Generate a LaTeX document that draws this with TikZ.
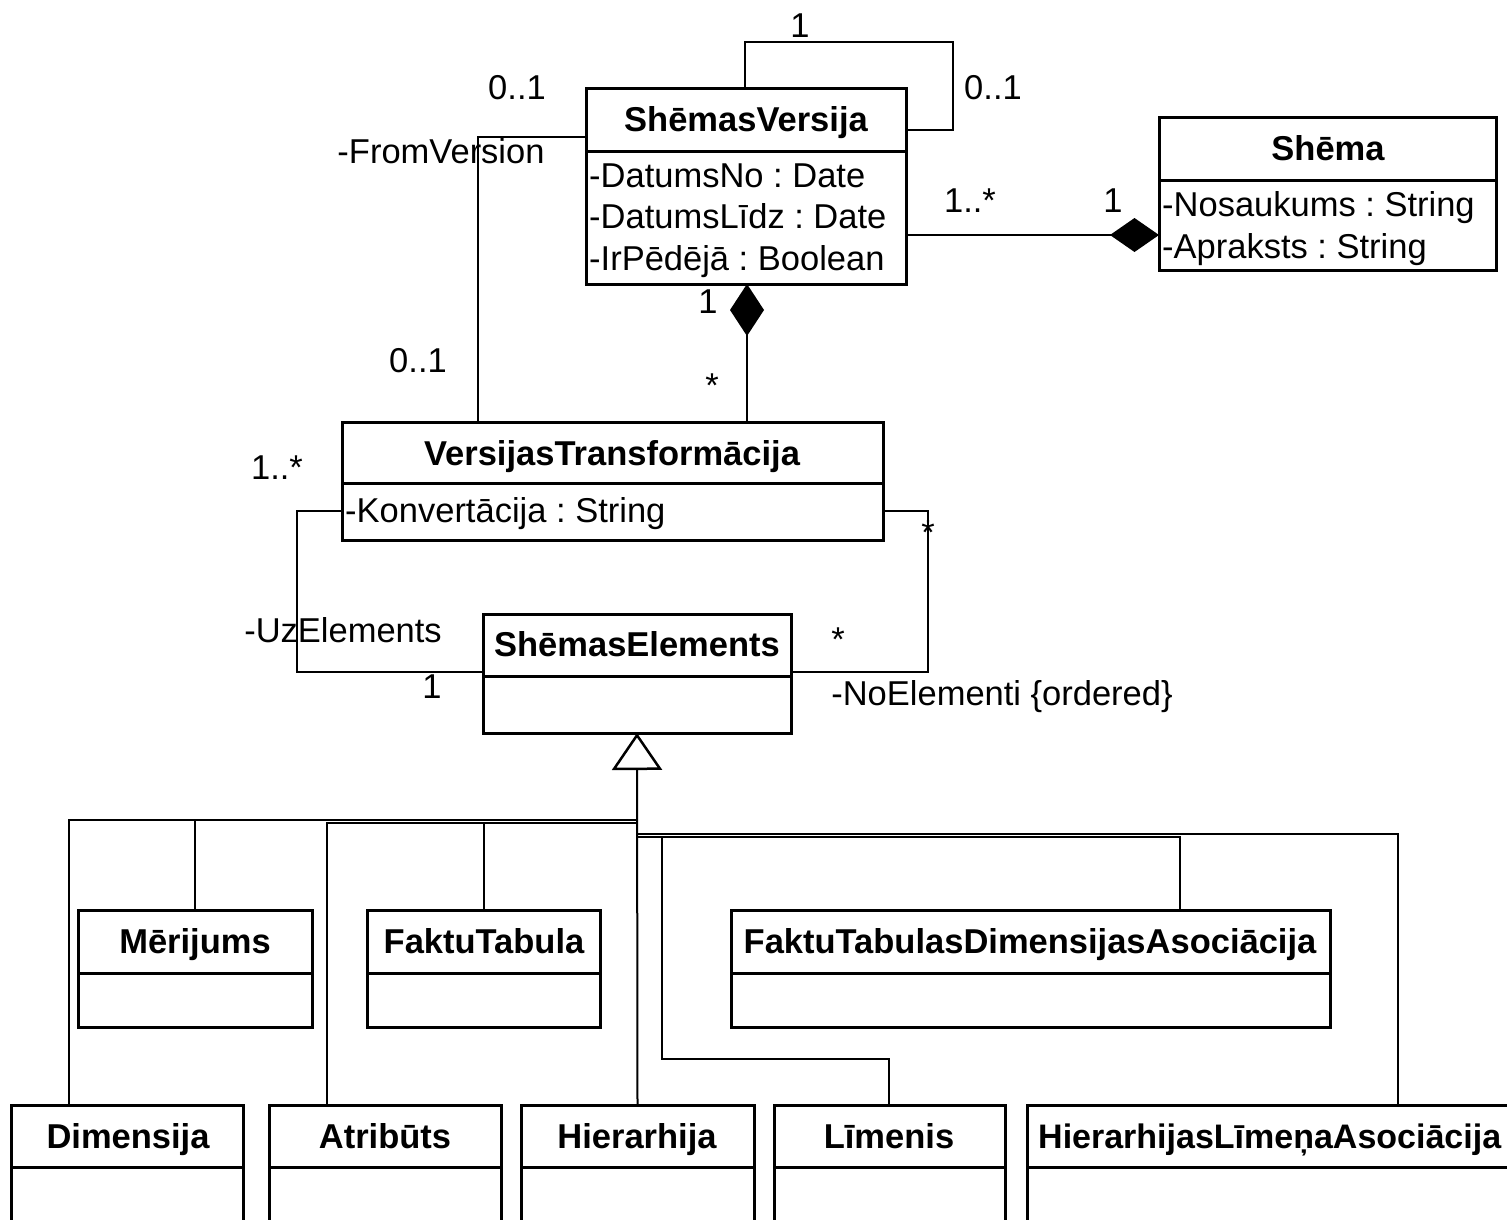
\documentclass[tikz,border=0pt]{standalone}
\usepackage{fontspec}
\setmainfont{Liberation Sans}
\usetikzlibrary{arrows.meta,fit}
\frenchspacing
\begin{document}
\begin{tikzpicture}[x=1pt,y=-1pt,
  font=\fontsize{34.5}{40}\selectfont,
  cls/.style={draw, line width=3pt, inner sep=0pt, outer sep=0pt},
  divl/.style={line width=3pt},
  conn/.style={line width=2pt},
  ttl/.style={font=\fontsize{34.5}{40}\selectfont\bfseries, anchor=base, inner sep=0pt},
  attr/.style={anchor=base west, inner sep=0pt},
  lbl/.style={anchor=base, inner sep=0pt},
]
\useasboundingbox (0,0) rectangle (1507,1219);
\clip (0,0) rectangle (1507,1219);

% ---------- classes ----------
\node[cls, fit={(586,88)(906,284)}] (sv) {};
\draw[divl] (586,151) -- (906,151);
\node[ttl] (svt) at (746,131) {ShēmasVersija};
\node[attr] (sva1) at (589,187) {-DatumsNo : Date};
\node[attr] (sva2) at (589,228) {-DatumsLīdz : Date};
\node[attr] (sva3) at (589,270) {-IrPēdējā : Boolean};

\node[cls, fit={(1159,117)(1496,270)}] (sh) {};
\draw[divl] (1159,180) -- (1496,180);
\node[ttl] (sht) at (1328,160) {Shēma};
\node[attr] (sha1) at (1162,216) {-Nosaukums : String};
\node[attr] (sha2) at (1162,258) {-Apraksts : String};

\node[cls, fit={(342,422)(883,540)}] (vt) {};
\draw[divl] (342,483) -- (883,483);
\node[ttl] (vtt) at (612,465) {VersijasTransformācija};
\node[attr] (vta1) at (345,522) {-Konvertācija : String};

\node[cls, fit={(483,614)(791,733)}] (se) {};
\draw[divl] (483,676) -- (791,676);
\node[ttl] (set) at (637,656) {ShēmasElements};

\node[cls, fit={(78,910)(312,1027)}] (me) {};
\draw[divl] (78,973) -- (312,973);
\node[ttl] (met) at (195,953) {Mērijums};

\node[cls, fit={(367,910)(600,1027)}] (ft) {};
\draw[divl] (367,973) -- (600,973);
\node[ttl] (ftt) at (484,953) {FaktuTabula};

\node[cls, fit={(731,910)(1330,1027)}] (fd) {};
\draw[divl] (731,973) -- (1330,973);
\node[ttl] (fdt) at (1030,953) {FaktuTabulasDimensijasAsociācija};

\node[cls, fit={(11,1105)(243,1240)}] (di) {};
\draw[divl] (11,1167) -- (243,1167);
\node[ttl] (dit) at (128,1148) {Dimensija};

\node[cls, fit={(269,1105)(501,1240)}] (at) {};
\draw[divl] (269,1167) -- (501,1167);
\node[ttl] (att) at (385,1148) {Atribūts};

\node[cls, fit={(521,1105)(754,1240)}] (hi) {};
\draw[divl] (521,1167) -- (754,1167);
\node[ttl] (hit) at (637,1148) {Hierarhija};

\node[cls, fit={(774,1105)(1005,1240)}] (li) {};
\draw[divl] (774,1167) -- (1005,1167);
\node[ttl] (lit) at (889,1148) {Līmenis};

\node[cls, fit={(1027,1105)(1540,1240)}] (hla) {};
\draw[divl] (1027,1167) -- (1540,1167);
\node[ttl, anchor=base west, font=\fontsize{34}{40}\selectfont\bfseries] (hlat) at (1038,1148) {HierarhijasLīmeņaAsociācija};

% ---------- associations ----------
\coordinate (la) at (745,42);
\coordinate (lb) at (953,130);
\draw[conn] (la |- sv.north) -- (la) -| (lb) -- (lb -| sv.east);

\coordinate (fa) at (478,137);
\draw[conn] (fa -| sv.west) -- (fa) -- (fa |- vt.north);

\coordinate (sa) at (0,235);
\draw[conn, -{Diamond[length=49pt,width=34pt]}] (sa -| sv.east) -- (sa -| sh.west);

\coordinate (ca) at (747,0);
\draw[conn, {Diamond[length=52pt,width=34pt]}-] (ca |- sv.south) -- (ca |- vt.north);

\coordinate (ua) at (297,511);
\coordinate (ub) at (297,672);
\draw[conn] (ua -| vt.west) -- (ua) -- (ub) -- (ub -| se.west);

\coordinate (na) at (928,511);
\coordinate (nb) at (928,672);
\draw[conn] (na -| vt.east) -- (na) -- (nb) -- (nb -| se.east);

% ---------- generalization ----------
\draw[conn, -{Triangle[open, length=37pt, width=50pt, fill=white, line width=2.5pt]}] (hi.north) -- (se.south);

\coordinate (t1) at (637,820);
\coordinate (t2) at (637,823);
\coordinate (t3) at (637,834);
\coordinate (t4) at (637,837);
\coordinate (d1) at (69,820);
\draw[conn] (t1) -- (d1) -- (d1 |- di.north);
\draw[conn] (me.north |- t1) -- (me.north);
\coordinate (a1) at (327,823);
\draw[conn] (t2) -- (a1) -- (a1 |- at.north);
\draw[conn] (ft.north |- t2) -- (ft.north);
\coordinate (h1) at (1398,834);
\draw[conn] (t3) -- (h1) -- (h1 |- hla.north);
\coordinate (f1) at (1180,837);
\draw[conn] (t4) -- (f1) -- (f1 |- fd.north);
\coordinate (l1) at (662,837);
\coordinate (l2) at (662,1059);
\coordinate (l3) at (889,1059);
\draw[conn] (l1) -- (l2) -- (l3) -- (l3 |- li.north);

% ---------- labels ----------
\node[lbl] (m1) at (800,37) {1};
\node[lbl] (m2) at (993,99) {0..1};
\node[lbl] (m3) at (517,99) {0..1};
\node[lbl] (r1) at (441,163) {-FromVersion};
\node[lbl] (m4) at (418,372) {0..1};
\node[lbl] (m5) at (970,212) {1..*};
\node[lbl] (m6) at (1113,212) {1};
\node[lbl] (m7) at (708,313) {1};
\node[lbl] (m8) at (712,397) {*};
\node[lbl] (m9) at (277,479) {1..*};
\node[lbl] (m10) at (928,544) {*};
\node[lbl] (r2) at (343,642) {-UzElements};
\node[lbl] (m11) at (838,651) {*};
\node[lbl] (m12) at (432,698) {1};
\node[lbl] (r3) at (1002,705) {-NoElementi \{ordered\}};
\end{tikzpicture}
\end{document}
